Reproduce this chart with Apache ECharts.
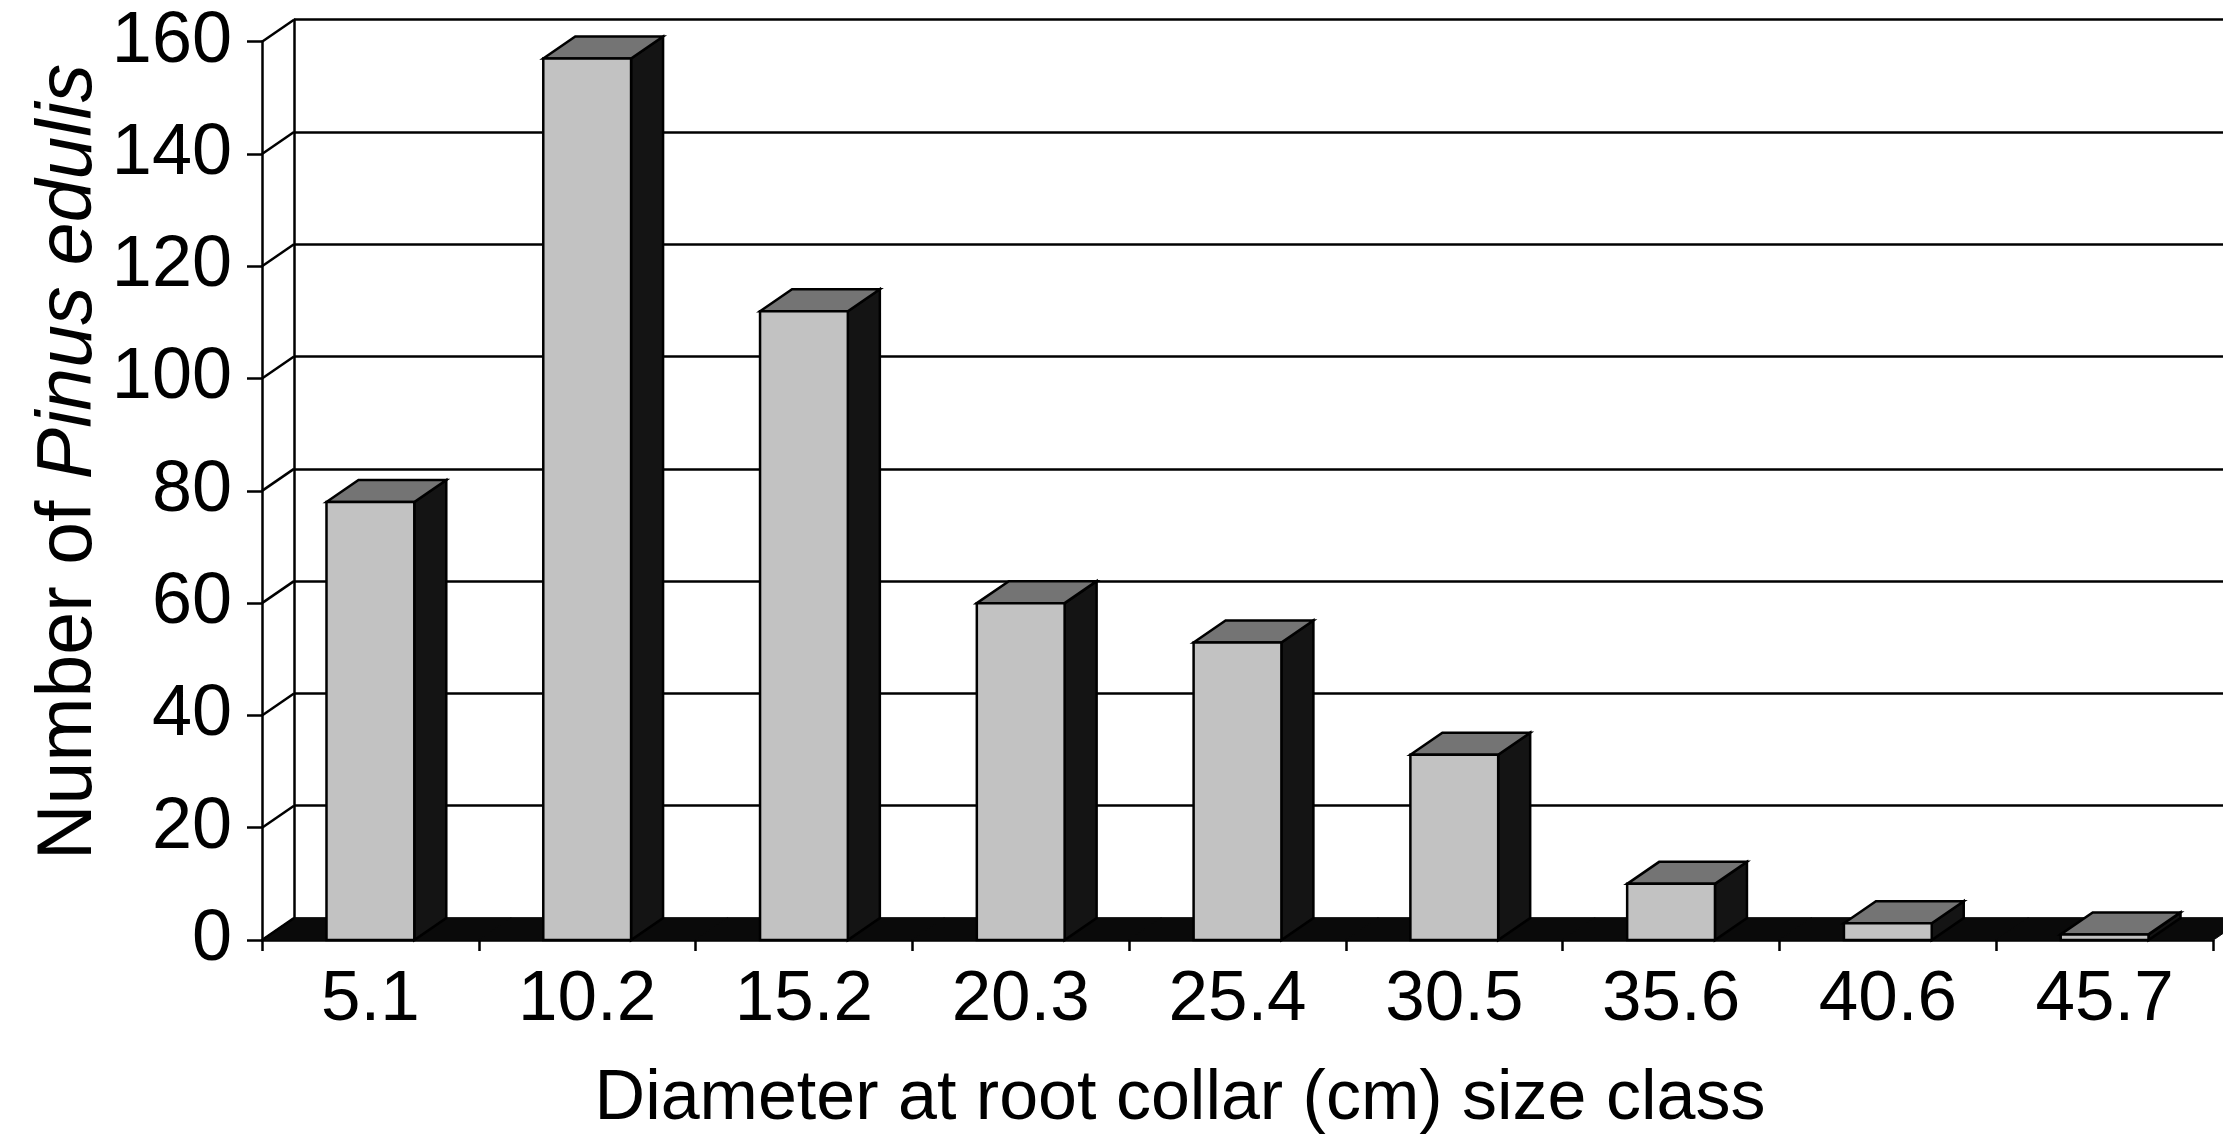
<!DOCTYPE html>
<html>
<head>
<meta charset="utf-8">
<script src="https://cdn.jsdelivr.net/npm/echarts@6/dist/echarts.min.js"></script>
<style>
  html, body { margin: 0; padding: 0; background: #ffffff; }
  #chart { width: 2223px; height: 1144px; }
</style>
</head>
<body>
<div id="chart"></div>
<script>
// ---- data ----
const categories = ['5.1', '10.2', '15.2', '20.3', '25.4', '30.5', '35.6', '40.6', '45.7'];
const counts = [78, 157, 112, 60, 53, 33, 10, 3, 1];
const yTicks = [0, 20, 40, 60, 80, 100, 120, 140, 160];
const xTitle = 'Diameter at root collar (cm) size class';
const yTitlePlain = 'Number of ';
const yTitleItalic = 'Pinus edulis';

// ---- style ----
const FONT = '"Liberation Sans", Arial, Helvetica, sans-serif';
const DX = 32, DY = 22;            // 3D depth offset
const BAR_RATIO = 0.405;
const FRONT = '#c2c2c2', TOPC = '#747474', SIDE = '#141414', FLOOR = '#0a0a0a';
const LW = 2.5;

const chart = echarts.init(document.getElementById('chart'), null, { renderer: 'canvas' });

function renderFloor(params, api) {
  const c = api.coord([api.value(0), 0]);
  const bw = api.size([1, 0])[0];
  const x0 = c[0] - bw / 2 - 0.5, x1 = c[0] + bw / 2 + 0.5, y = c[1];
  return {
    type: 'polygon',
    shape: { points: [[x0, y], [x0 + DX, y - DY], [x1 + DX, y - DY], [x1, y]] },
    style: { fill: FLOOR, stroke: FLOOR, lineWidth: 1 }
  };
}

function renderConnector(params, api) {
  const y = api.coord([0, api.value(1)])[1];
  const x = params.coordSys.x;
  return {
    type: 'line',
    shape: { x1: x, y1: y, x2: x + DX, y2: y - DY },
    style: { stroke: '#000', lineWidth: LW }
  };
}

function renderBar(params, api) {
  const i = api.value(0), v = api.value(1);
  const top = api.coord([i, v]);
  const base = api.coord([i, 0]);
  const bw = api.size([1, 0])[0] * BAR_RATIO;
  const x0 = top[0] - bw / 2, x1 = top[0] + bw / 2;
  const yT = top[1], yB = base[1];
  return {
    type: 'group',
    children: [
      { type: 'polygon', shape: { points: [[x1, yT], [x1 + DX, yT - DY], [x1 + DX, yB - DY], [x1, yB]] },
        style: { fill: SIDE, stroke: '#000', lineWidth: LW } },
      { type: 'polygon', shape: { points: [[x0, yT], [x0 + DX, yT - DY], [x1 + DX, yT - DY], [x1, yT]] },
        style: { fill: TOPC, stroke: '#000', lineWidth: LW } },
      { type: 'rect', shape: { x: x0, y: yT, width: bw, height: yB - yT },
        style: { fill: FRONT, stroke: '#000', lineWidth: LW } }
    ]
  };
}

const option = {
  backgroundColor: '#ffffff',
  animation: false,
  textStyle: { fontFamily: FONT, color: '#000' },
  grid: [
    { left: 262, right: 10, top: 41.7, bottom: 204, containLabel: false },
    { left: 294, right: -22, top: 19.7, bottom: 226, containLabel: false }
  ],
  xAxis: [
    {
      type: 'category', gridIndex: 0, data: categories, boundaryGap: true,
      axisLine: { show: true, lineStyle: { color: '#000', width: LW } },
      axisTick: { show: true, length: 11, lineStyle: { color: '#000', width: LW } },
      axisLabel: { color: '#000', fontSize: 71, fontFamily: FONT, margin: 25 },
      splitLine: { show: false }
    },
    {
      type: 'category', gridIndex: 1, data: categories, show: false
    }
  ],
  yAxis: [
    {
      type: 'value', gridIndex: 0, min: 0, max: 160, interval: 20,
      axisLine: { show: true, lineStyle: { color: '#000', width: LW } },
      axisTick: { show: true, length: 15, lineStyle: { color: '#000', width: LW } },
      axisLabel: { color: '#000', fontSize: 72, fontFamily: FONT, margin: 30 },
      splitLine: { show: false }
    },
    {
      type: 'value', gridIndex: 1, min: 0, max: 160, interval: 20,
      axisLine: { show: true, lineStyle: { color: '#000', width: LW } },
      axisTick: { show: false },
      axisLabel: { show: false },
      splitLine: { show: true, lineStyle: { color: '#000', width: LW } }
    }
  ],
  series: [
    {
      type: 'custom', name: 'floor', xAxisIndex: 0, yAxisIndex: 0, z: 2,
      renderItem: renderFloor, data: categories.map((c, i) => [i, 0]), silent: true
    },
    {
      type: 'custom', name: 'connectors', xAxisIndex: 0, yAxisIndex: 0, z: 2,
      renderItem: renderConnector, data: yTicks.map(v => [0, v]), silent: true
    },
    {
      type: 'custom', name: 'Pinus edulis', xAxisIndex: 0, yAxisIndex: 0, z: 3,
      renderItem: renderBar, data: counts.map((c, i) => [i, c])
    }
  ],
  graphic: [
    {
      type: 'text', x: 1180, y: 1100,
      style: { text: xTitle, font: '70px ' + FONT, fill: '#000', align: 'center', verticalAlign: 'middle' }
    },
    {
      type: 'text', x: 70, y: 462, rotation: Math.PI / 2,
      style: {
        text: '{n|' + yTitlePlain + '}{i|' + yTitleItalic + '}',
        align: 'center', verticalAlign: 'middle',
        rich: {
          n: { fontSize: 77, fontFamily: FONT, fill: '#000' },
          i: { fontSize: 77, fontFamily: FONT, fontStyle: 'italic', fill: '#000' }
        }
      }
    }
  ]
};

chart.setOption(option);
</script>
</body>
</html>
